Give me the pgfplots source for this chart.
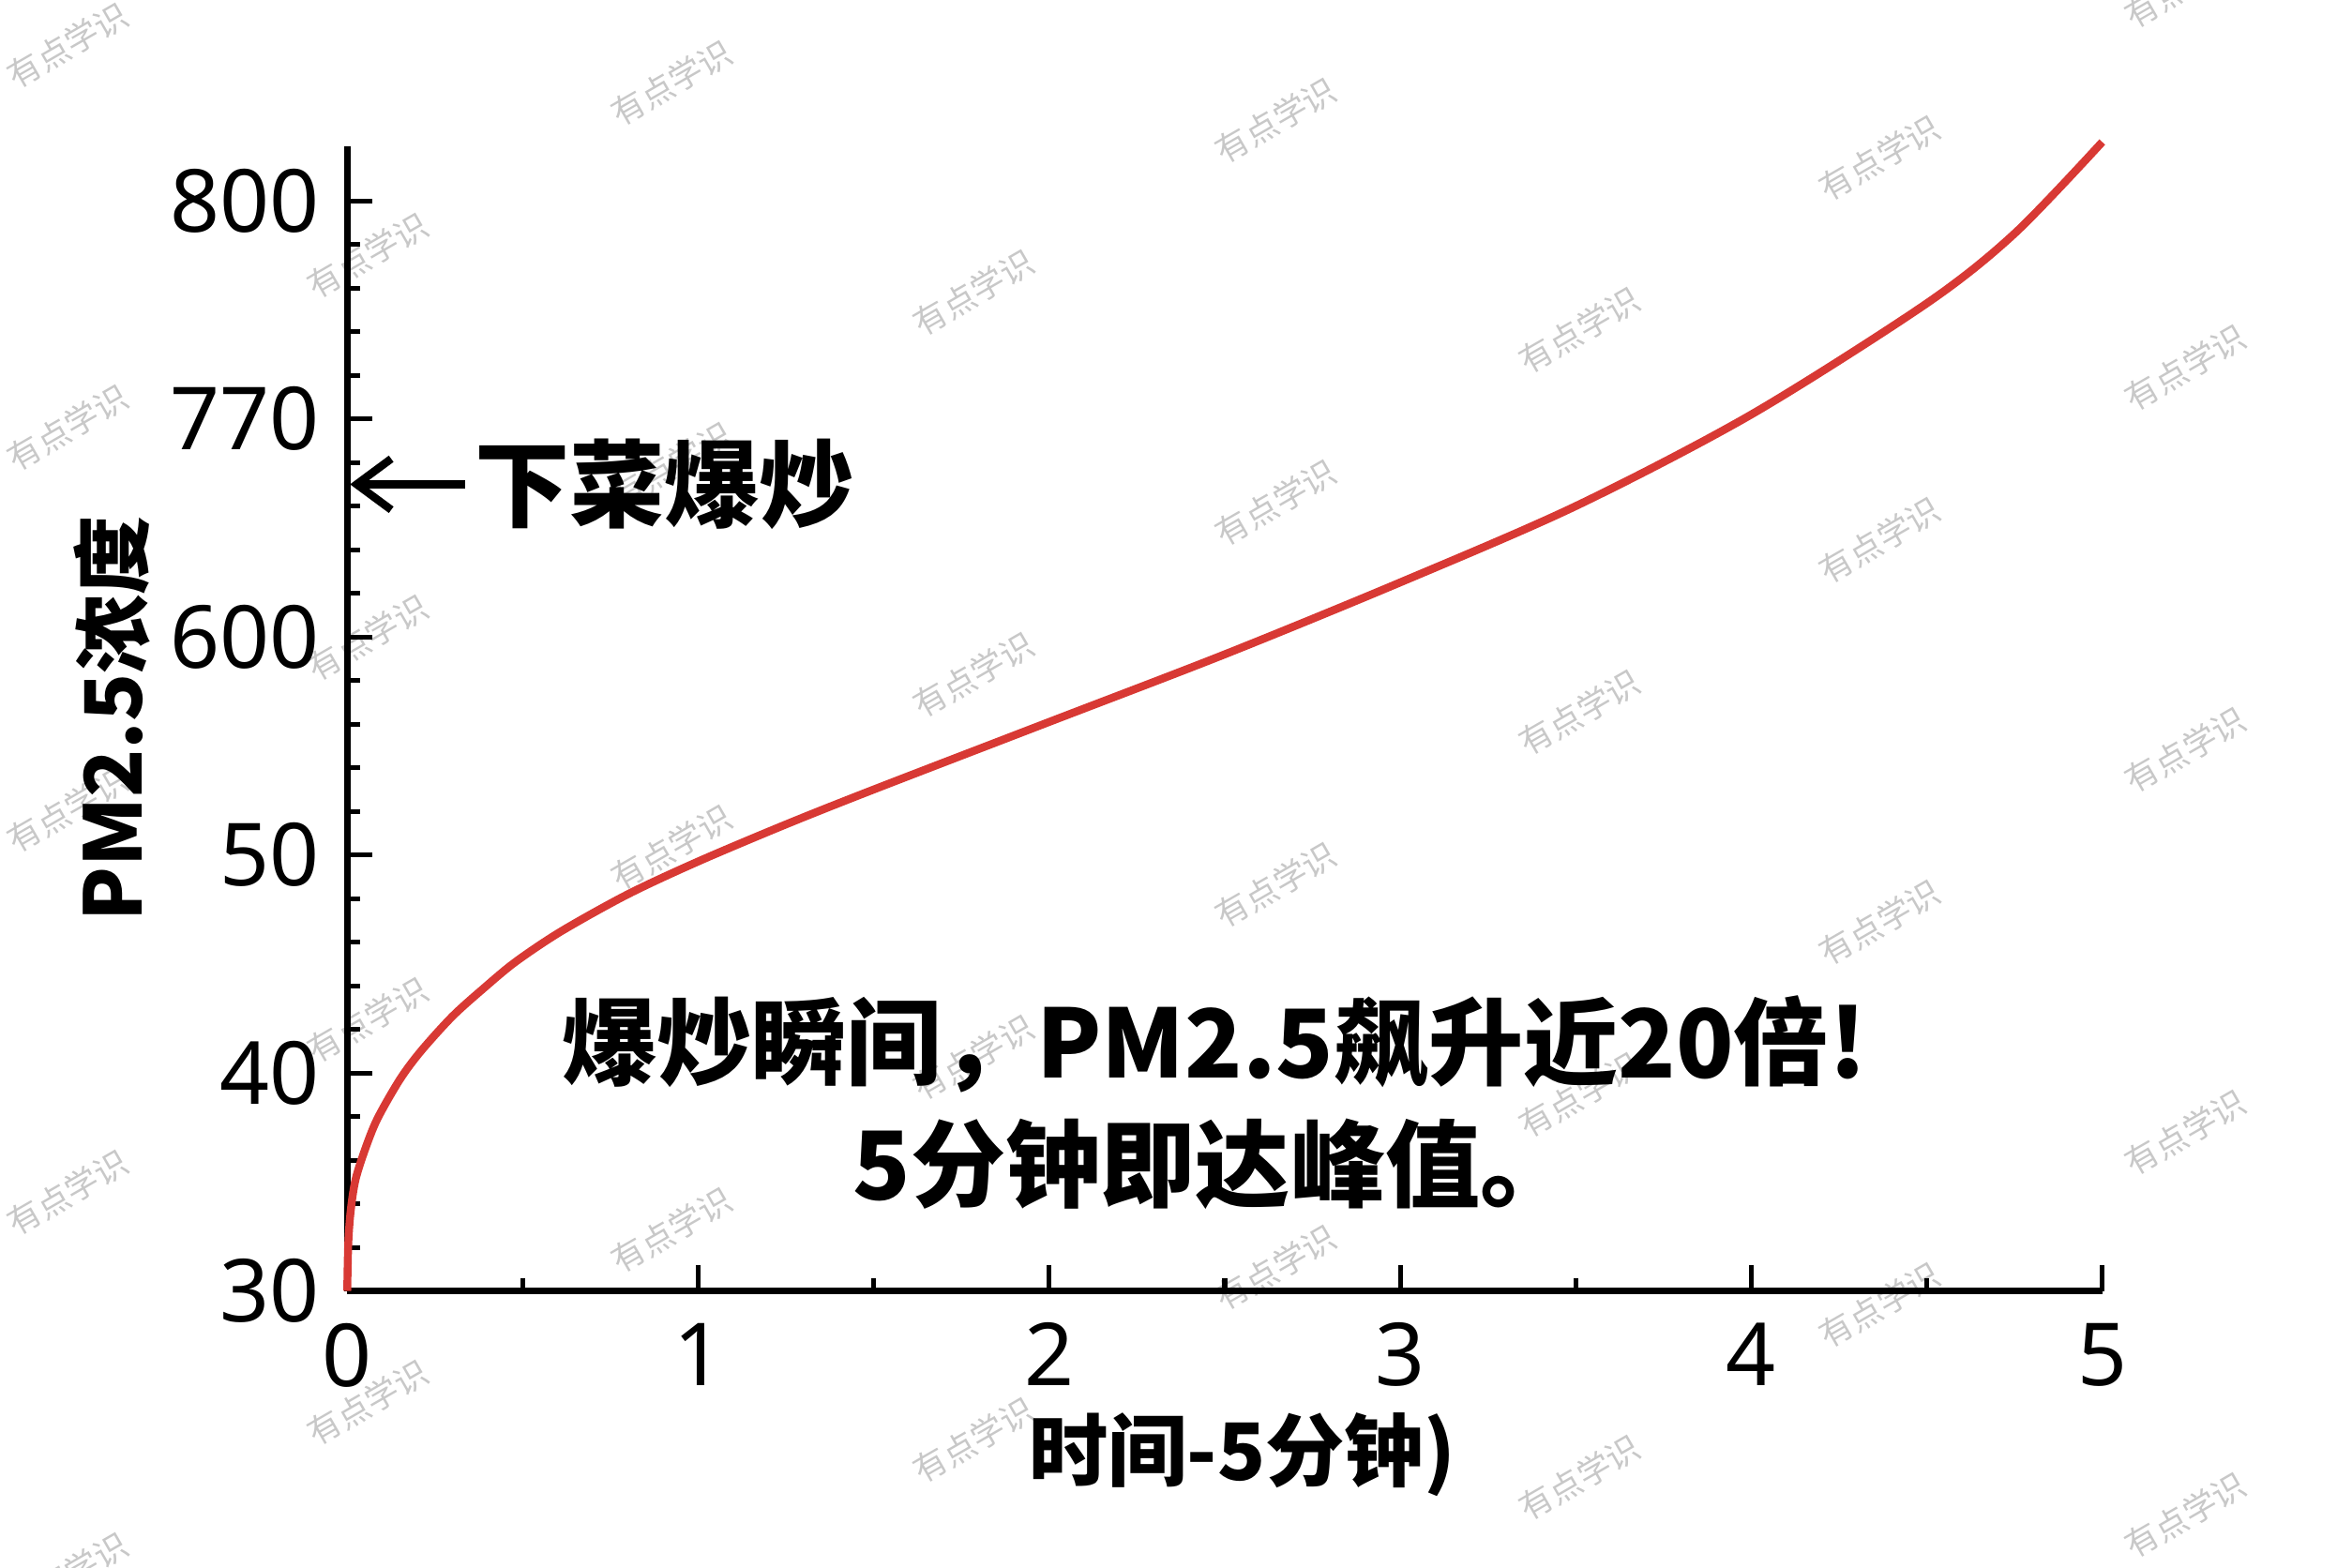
\documentclass[border=0pt]{standalone}
\usepackage{fontspec}
\setmainfont{Noto Sans CJK SC}
\newfontfamily\tickfont{Noto Sans}
\usepackage{pgfplots}
\pgfplotsset{compat=1.18}
\usetikzlibrary{arrows.meta}
\definecolor{curvered}{RGB}{216,57,52}
\definecolor{wmgray}{RGB}{200,200,200}

\begin{document}
\begin{tikzpicture}
% page frame, in mm from the data origin
\begin{scope}[x=1mm,y=1mm]
\useasboundingbox (-23.15,-18.44) rectangle (133.65,86.06);
% watermark grid
\foreach \i in {0,...,3}{
  \foreach \k in {-1,...,4}{
    \pgfmathsetmacro{\ax}{(45+402.7*\i-231.5)/10}
    \pgfmathsetmacro{\ay}{(860.6-(30+25*\i+255*\k))/10}
    \pgfmathsetmacro{\bx}{(245+404*\i-231.5)/10}
    \pgfmathsetmacro{\by}{(860.6-(170+25*\i+255*\k))/10}
    \node[rotate=30, text=wmgray, inner sep=0, font=\fontsize{6.3}{6.3}\selectfont] at (\ax,\ay) {有点学识};
    \node[rotate=30, text=wmgray, inner sep=0, font=\fontsize{6.3}{6.3}\selectfont] at (\bx,\by) {有点学识};
  }
}
\end{scope}

\begin{axis}[
    at={(0,0)}, anchor=south west,
    width=117mm, height=76.3mm, scale only axis,
    xmin=0, xmax=5, ymin=0, ymax=5.25,
    axis lines=left,
    axis line style={-, line width=1.3pt},
    tick align=inside,
    xtick={0,1,2,3,4,5},
    minor x tick num=1,
    ytick={0,1,2,3,4,5},
    yticklabels={30,40,50,600,770,800},
    minor y tick num=4,
    major tick length=1.7mm,
    minor tick length=0.85mm,
    every tick/.style={black, line width=0.9pt},
    tick label style={font=\tickfont\fontsize{16.5}{16.5}\selectfont},
    xticklabel style={yshift=-0.9mm},
    yticklabel style={xshift=-0.6mm},
    /pgf/number format/assume math mode=true,
    xlabel={时间-5分钟)},
    ylabel={PM2.5浓度},
    xlabel style={font=\bfseries\fontsize{15}{15}\selectfont,
        at={(axis description cs:0.51,0)}, anchor=center, yshift=-10.9mm},
    ylabel style={font=\bfseries\fontsize{15}{15}\selectfont,
        at={(axis description cs:-0.134,0.5)}, anchor=center},
    clip=false,
]

\addplot[curvered, line width=1.5pt, smooth] coordinates {
    (0,0) (0.003,0.22) (0.01,0.37) (0.0235,0.51) (0.051,0.65)
    (0.086,0.79) (0.15,0.97) (0.21,1.10) (0.30,1.26) (0.39,1.39)
    (0.48,1.51) (0.61,1.65) (0.80,1.82) (1.00,1.97) (1.25,2.14)
    (1.50,2.30) (2.00,2.61) (2.50,2.92) (3.00,3.25) (3.50,3.60)
    (4.00,4.02) (4.50,4.53) (4.75,4.85) (5.00,5.27)
};

% annotations
\draw[-{Straight Barb[length=2.3mm,width=3.4mm]}, line width=1.5pt]
    (axis cs:0.335,3.70) -- (axis cs:0.008,3.70);
\node[anchor=west, inner sep=0, font=\bfseries\fontsize{18}{18}\selectfont]
    at (axis cs:0.36,3.70) {下菜爆炒};
\node[align=center, font=\bfseries\fontsize{18}{23}\selectfont]
    at (axis cs:2.47,0.864) {爆炒瞬间，PM2.5飙升近20倍!\\5分钟即达峰值。};

\end{axis}
\end{tikzpicture}
\end{document}
